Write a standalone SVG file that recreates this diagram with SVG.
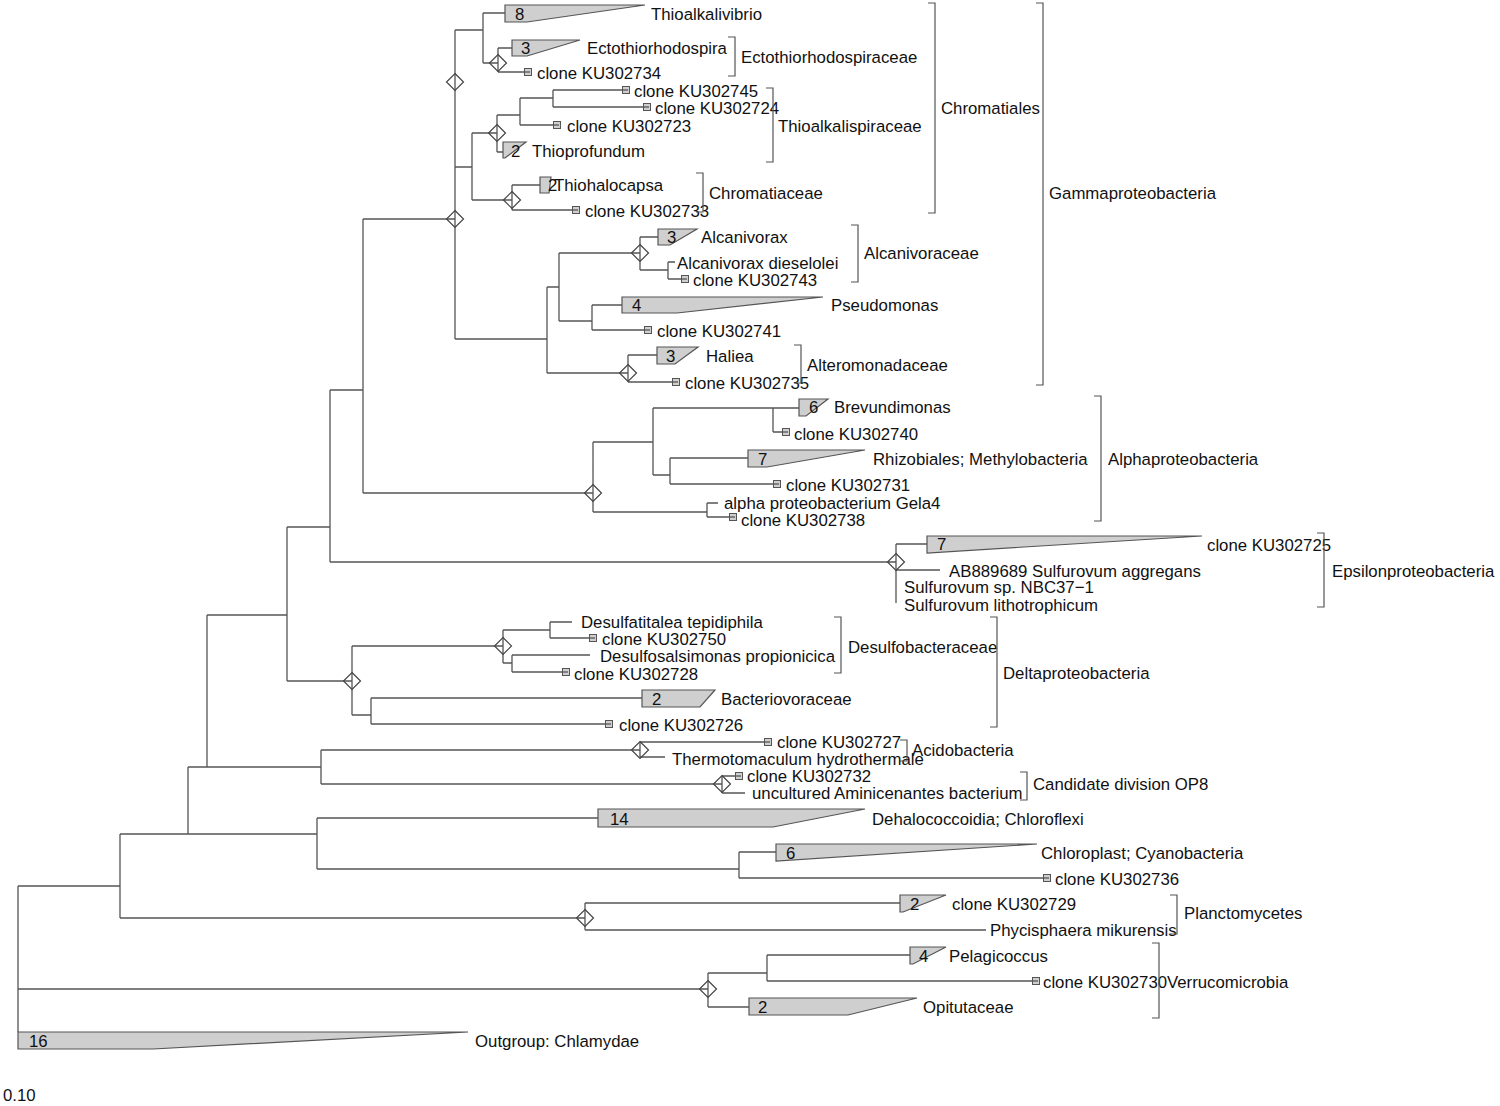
<svg xmlns="http://www.w3.org/2000/svg" xmlns:xlink="http://www.w3.org/1999/xlink" width="1500" height="1106" viewBox="0 0 1500 1106">
<style>
text{font-family:"Liberation Sans",Arial,sans-serif;font-size:16.8px;fill:#111}
.ln{fill:none;stroke:#555;stroke-width:1.3}
.tri{fill:#cfcfcf;stroke:#555;stroke-width:1.2}
.sq{fill:#cfcfcf;stroke:#555;stroke-width:1}
.br{fill:none;stroke:#555;stroke-width:1.2}
.dia{fill:none;stroke:#444;stroke-width:1.2}
</style>
<defs>
<path id="dm" d="M0,-8.5 L8.5,0 L0,8.5 L-8.5,0 Z" class="dia"/>
<g id="sq"><rect x="-3.5" y="-3.5" width="7" height="7" class="sq"/><path d="M-3.5,0 H2" class="ln"/></g>
</defs>
<rect width="1500" height="1106" fill="#fff"/>
<g id="connectors" class="ln">
<path d="M18,886 V1032 M18,886 H120 M18,989 H708
M120,834 V918 M120,918 H585 M120,834 H317 M188,767 V834
M188,767 H321 M207,615 V767
M207,615 H287 M287,527 V681 M287,681 H352
M287,527 H330 M330,390 V562 M330,562 H896
M330,390 H363 M363,219 V493 M363,219 H455 M363,493 H593
M455,30 V339 M455,339 H547
M455,30 H483 M483,13 V63 M483,13 H505 M483,63 H498 M498,48 V72 M498,48 H512 M498,72 H525
M455,167 H472 M472,133 V200 M472,133 H497 M497,115 V152 M497,115 H520 M497,152 H503 M520,98 V125 M520,98 H553 M553,90 V107 M553,90 H623 M553,107 H644 M520,125 H554
M472,200 H512 M512,185 V210 M512,185 H540 M512,210 H573
M547,287 V373 M547,287 H559 M559,253 V321 M559,253 H640 M640,237 V270 M640,237 H658 M640,270 H668 M668,262 V279 M668,262 H675 M668,279 H682
M559,321 H592 M592,305 V330 M592,305 H622 M592,330 H645
M547,373 H628 M628,355 V382 M628,355 H657 M628,382 H673
M593,442 V512 M593,442 H653 M653,408 V475 M653,408 H799 M773,408 V432 M773,432 H783 M653,475 H670 M670,458 V484 M670,458 H748 M670,484 H774 M593,512 H707 M707,503 V517 M707,503 H718 M707,517 H730
M896,544 V603 M896,544 H927 M896,570 H940
M352,646 V715 M352,646 H503 M503,630 V663 M503,630 H550 M550,622 V638 M550,622 H572 M550,638 H590 M503,663 H512 M512,655 V672 M512,655 H590 M512,672 H563
M352,715 H371 M371,698 V724 M371,698 H642 M371,724 H606
M321,750 V784 M321,750 H640 M640,742 V757 M640,742 H765 M640,757 H665
M321,784 H722 M722,776 V793 M722,776 H736 M722,793 H745
M317,818 V869 M317,818 H598 M317,869 H739 M739,852 V878 M739,852 H776 M739,878 H1044
M585,903 V930 M585,903 H900 M585,930 H986
M708,973 V1007 M708,973 H767 M767,955 V981 M767,955 H910 M767,981 H1033 M708,1007 H749"/>
<use href="#dm" x="455" y="82"/>
<use href="#dm" x="455" y="219"/>
<use href="#dm" x="498" y="63"/>
<use href="#dm" x="497" y="133"/>
<use href="#dm" x="512" y="200"/>
<use href="#dm" x="640" y="253"/>
<use href="#dm" x="628" y="373"/>
<use href="#dm" x="593" y="493"/>
<use href="#dm" x="896" y="562"/>
<use href="#dm" x="352" y="681"/>
<use href="#dm" x="503" y="646"/>
<use href="#dm" x="640" y="750"/>
<use href="#dm" x="722" y="784"/>
<use href="#dm" x="585" y="918"/>
<use href="#dm" x="708" y="989"/>
</g>
<g id="n-thioalkalivibrio"><polygon class="tri" points="505,5 645,5 527,22 505,22"/><text x="515" y="20">8</text><text x="651" y="20">Thioalkalivibrio</text></g>
<g id="n-ectothiorhodospira"><polygon class="tri" points="512,40 580,40 527,56 512,56"/><text x="521" y="54">3</text><text x="587" y="54">Ectothiorhodospira</text></g>
<g id="n-ku302734"><use href="#sq" x="528" y="72"/><text x="537" y="79">clone KU302734</text></g>
<g id="n-ku302745"><use href="#sq" x="626" y="90"/><text x="634" y="97">clone KU302745</text></g>
<g id="n-ku302724"><use href="#sq" x="647" y="107"/><text x="655" y="114">clone KU302724</text></g>
<g id="n-ku302723"><use href="#sq" x="557" y="125"/><text x="567" y="132">clone KU302723</text></g>
<g id="n-thioprofundum"><polygon class="tri" points="503,142 526,142 505,158 503,158"/><text x="511" y="157">2</text><text x="532" y="157">Thioprofundum</text></g>
<g id="n-thiohalocapsa"><polygon class="tri" points="540,177 551,177 549,193 540,193"/><text x="548" y="191">2</text><text x="554" y="191">Thiohalocapsa</text></g>
<g id="n-ku302733"><use href="#sq" x="576" y="210"/><text x="585" y="217">clone KU302733</text></g>
<g id="n-alcanivorax"><polygon class="tri" points="658,229 697,229 670,245 658,245"/><text x="667" y="243">3</text><text x="701" y="243">Alcanivorax</text></g>
<g id="n-dieselolei"><text x="677" y="269">Alcanivorax dieselolei</text></g>
<g id="n-ku302743"><use href="#sq" x="685" y="279"/><text x="693" y="286">clone KU302743</text></g>
<g id="n-pseudomonas"><polygon class="tri" points="622,297 823,297 677,313 622,313"/><text x="632" y="311">4</text><text x="831" y="311">Pseudomonas</text></g>
<g id="n-ku302741"><use href="#sq" x="648" y="330"/><text x="657" y="337">clone KU302741</text></g>
<g id="n-haliea"><polygon class="tri" points="657,347 698,347 675,364 657,364"/><text x="666" y="362">3</text><text x="706" y="362">Haliea</text></g>
<g id="n-ku302735"><use href="#sq" x="676" y="382"/><text x="685" y="389">clone KU302735</text></g>
<g id="n-brevundimonas"><polygon class="tri" points="799,399 828,399 806,416 799,416"/><text x="809" y="413">6</text><text x="834" y="413">Brevundimonas</text></g>
<g id="n-ku302740"><use href="#sq" x="786" y="432"/><text x="794" y="440">clone KU302740</text></g>
<g id="n-rhizobiales"><polygon class="tri" points="748,450 865,450 767,467 748,467"/><text x="758" y="465">7</text><text x="873" y="465">Rhizobiales; Methylobacteria</text></g>
<g id="n-ku302731"><use href="#sq" x="777" y="484"/><text x="786" y="491">clone KU302731</text></g>
<g id="n-gela4"><text x="724" y="509">alpha proteobacterium Gela4</text></g>
<g id="n-ku302738"><use href="#sq" x="733" y="517"/><text x="741" y="526">clone KU302738</text></g>
<g id="n-ku302725"><polygon class="tri" points="927,536 1202,536 927,553"/><text x="937" y="550">7</text><text x="1207" y="551">clone KU302725</text></g>
<g id="n-aggregans"><text x="949" y="577">AB889689 Sulfurovum aggregans</text></g>
<g id="n-nbc37"><text x="904" y="593">Sulfurovum sp. NBC37−1</text></g>
<g id="n-lithotrophicum"><text x="904" y="611">Sulfurovum lithotrophicum</text></g>
<g id="n-desulfatitalea"><text x="581" y="628">Desulfatitalea tepidiphila</text></g>
<g id="n-ku302750"><use href="#sq" x="593" y="638"/><text x="602" y="645">clone KU302750</text></g>
<g id="n-desulfosalsimonas"><text x="600" y="662">Desulfosalsimonas propionicica</text></g>
<g id="n-ku302728"><use href="#sq" x="566" y="672"/><text x="574" y="680">clone KU302728</text></g>
<g id="n-bacteriovoraceae"><polygon class="tri" points="642,690 715,690 700,707 642,707"/><text x="652" y="705">2</text><text x="721" y="705">Bacteriovoraceae</text></g>
<g id="n-ku302726"><use href="#sq" x="609" y="724"/><text x="619" y="731">clone KU302726</text></g>
<g id="n-ku302727"><use href="#sq" x="768" y="742"/><text x="777" y="748">clone KU302727</text></g>
<g id="n-thermotomaculum"><text x="672" y="765">Thermotomaculum hydrothermale</text></g>
<g id="n-ku302732"><use href="#sq" x="739" y="776"/><text x="747" y="782">clone KU302732</text></g>
<g id="n-aminicenantes"><text x="752" y="799">uncultured Aminicenantes bacterium</text></g>
<g id="n-dehalococcoidia"><polygon class="tri" points="598,809 865,809 773,827 598,827"/><text x="610" y="825">14</text><text x="872" y="825">Dehalococcoidia; Chloroflexi</text></g>
<g id="n-chloroplast"><polygon class="tri" points="776,844 1037,844 776,861"/><text x="786" y="859">6</text><text x="1041" y="859">Chloroplast; Cyanobacteria</text></g>
<g id="n-ku302736"><use href="#sq" x="1047" y="878"/><text x="1055" y="885">clone KU302736</text></g>
<g id="n-ku302729"><polygon class="tri" points="900,895 946,895 903,912 900,912"/><text x="910" y="910">2</text><text x="952" y="910">clone KU302729</text></g>
<g id="n-phycisphaera"><text x="990" y="936">Phycisphaera mikurensis</text></g>
<g id="n-pelagicoccus"><polygon class="tri" points="910,947 946,947 913,964 910,964"/><text x="919" y="962">4</text><text x="949" y="962">Pelagicoccus</text></g>
<g id="n-ku302730"><use href="#sq" x="1036" y="981"/><text x="1043" y="988">clone KU302730</text></g>
<g id="n-opitutaceae"><polygon class="tri" points="749,998 917,998 848,1015 749,1015"/><text x="758" y="1013">2</text><text x="923" y="1013">Opitutaceae</text></g>
<g id="n-outgroup"><polygon class="tri" points="18,1032 468,1032 153,1049 18,1049"/><text x="29" y="1047">16</text><text x="475" y="1047">Outgroup: Chlamydae</text></g>
<g id="brackets">
<g id="b-ecto"><path class="br" d="M728,37 H735 V76 H728"/><text x="741" y="63">Ectothiorhodospiraceae</text></g>
<g id="b-thioalkalispiraceae"><path class="br" d="M766,88 H773 V162 H766"/><text x="778" y="132">Thioalkalispiraceae</text></g>
<g id="b-chromatiaceae"><path class="br" d="M696,173 H703 V212 H696"/><text x="709" y="199">Chromatiaceae</text></g>
<g id="b-chromatiales"><path class="br" d="M928,3 H935 V213 H928"/><text x="941" y="114">Chromatiales</text></g>
<g id="b-gamma"><path class="br" d="M1036,3 H1043 V385 H1036"/><text x="1049" y="199">Gammaproteobacteria</text></g>
<g id="b-alcanivoraceae"><path class="br" d="M851,225 H858 V282 H851"/><text x="864" y="259">Alcanivoraceae</text></g>
<g id="b-alteromonadaceae"><path class="br" d="M794,345 H801 V383 H794"/><text x="807" y="371">Alteromonadaceae</text></g>
<g id="b-alpha"><path class="br" d="M1094,396 H1101 V521 H1094"/><text x="1108" y="465">Alphaproteobacteria</text></g>
<g id="b-epsilon"><path class="br" d="M1317,533 H1324 V607 H1317"/><text x="1332" y="577">Epsilonproteobacteria</text></g>
<g id="b-desulfobacteraceae"><path class="br" d="M834,617 H841 V673 H834"/><text x="848" y="653">Desulfobacteraceae</text></g>
<g id="b-delta"><path class="br" d="M990,617 H997 V727 H990"/><text x="1003" y="679">Deltaproteobacteria</text></g>
<g id="b-acido"><path class="br" d="M900,740 H907 V761 H900"/><text x="912" y="756">Acidobacteria</text></g>
<g id="b-op8"><path class="br" d="M1020,772 H1027 V800 H1020"/><text x="1033" y="790">Candidate division OP8</text></g>
<g id="b-plancto"><path class="br" d="M1170,895 H1177 V934 H1170"/><text x="1184" y="919">Planctomycetes</text></g>
<g id="b-verruco"><path class="br" d="M1152,943 H1159 V1018 H1152"/><text x="1167" y="988">Verrucomicrobia</text></g>
</g>
<text id="scale" x="3" y="1101">0.10</text>
</svg>
